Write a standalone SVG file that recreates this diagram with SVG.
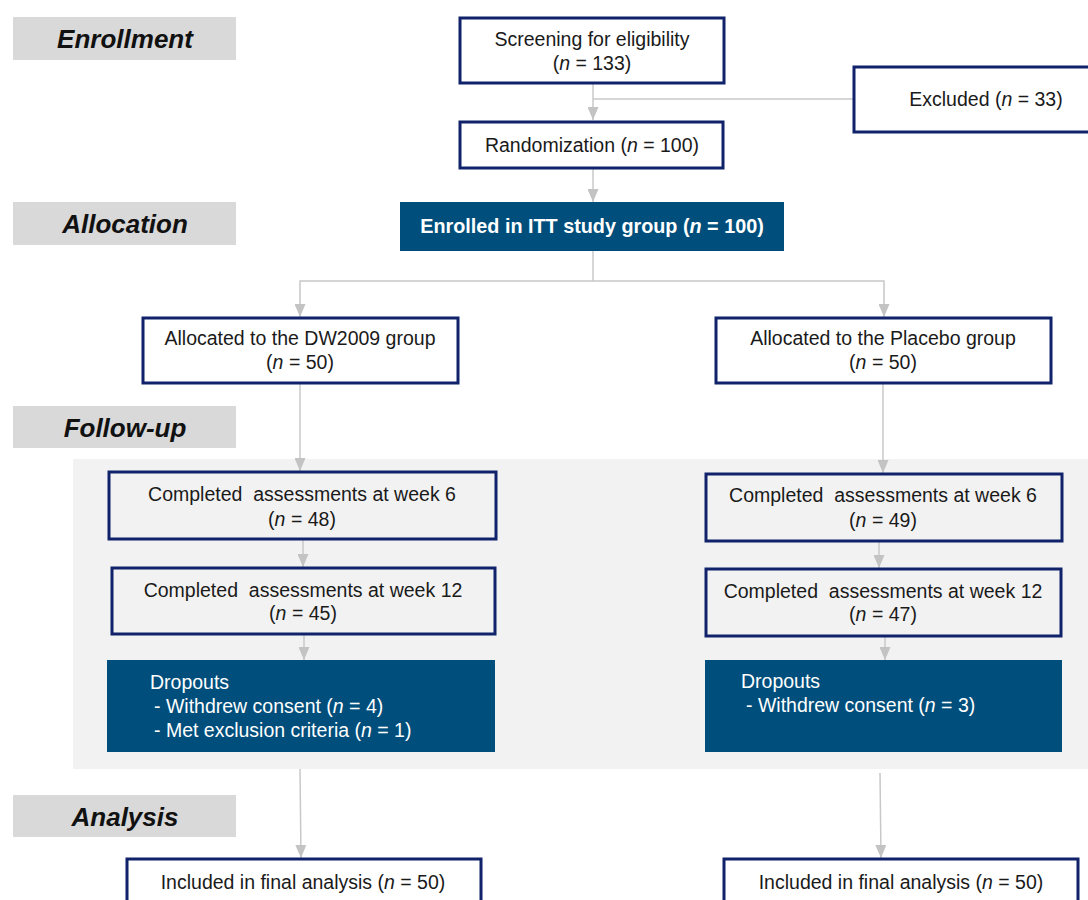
<svg xmlns="http://www.w3.org/2000/svg" width="1088" height="900" viewBox="0 0 1088 900">
<defs>
<marker id="ah" markerWidth="13" markerHeight="11" refX="13" refY="5.5" orient="auto" markerUnits="userSpaceOnUse" viewBox="0 0 13 11">
<path d="M0,0 L13,5.5 L0,11 Z" fill="#c3c3c3"/>
</marker>
<style>
.sec{fill:#d9d9d9}
.sect{font-family:"Liberation Sans",Arial,sans-serif;font-size:26px;font-weight:bold;font-style:italic;fill:#111;text-anchor:middle}
.box{fill:#ffffff;stroke:#0f226a;stroke-width:3}
.gbox{fill:#f2f2f2;stroke:#0f226a;stroke-width:3}
.fill{fill:#004e7b}
.t{font-family:"Liberation Sans",Arial,sans-serif;font-size:19.5px;fill:#1a1a1a;text-anchor:middle}
.w{font-family:"Liberation Sans",Arial,sans-serif;font-size:19.5px;fill:#ffffff}
.wb{font-family:"Liberation Sans",Arial,sans-serif;font-size:19.8px;font-weight:bold;fill:#ffffff;text-anchor:middle}
.c{fill:none;stroke:#c8c8c8;stroke-width:1.5}
</style>
</defs>
<rect width="1088" height="900" fill="#ffffff"/>
<rect id="followup-panel" x="73" y="459" width="1015" height="310" fill="#f2f2f2"/>

<g id="sec-enrollment"><rect class="sec" x="13" y="17" width="223" height="43"/><text class="sect" x="125" y="48">Enrollment</text></g>
<g id="sec-allocation"><rect class="sec" x="13" y="202" width="223" height="43"/><text class="sect" x="125" y="233">Allocation</text></g>
<g id="sec-followup"><rect class="sec" x="13" y="406" width="223" height="42"/><text class="sect" x="125" y="437">Follow-up</text></g>
<g id="sec-analysis"><rect class="sec" x="13" y="795" width="223" height="42"/><text class="sect" x="125" y="826">Analysis</text></g>

<g id="connectors">
<line class="c" x1="593" y1="83" x2="593" y2="120" marker-end="url(#ah)"/>
<line class="c" x1="593" y1="99" x2="853" y2="99"/>
<line class="c" x1="593" y1="168" x2="593" y2="202" marker-end="url(#ah)"/>
<polyline class="c" points="593,251 593,281"/>
<polyline class="c" points="593,281 884,281 884,317" marker-end="url(#ah)"/>
<polyline class="c" points="593,281 300,281 300,317" marker-end="url(#ah)"/>
<line class="c" x1="300" y1="383" x2="300" y2="471" marker-end="url(#ah)"/>
<line class="c" x1="883" y1="383" x2="883" y2="473" marker-end="url(#ah)"/>
<line class="c" x1="303" y1="539" x2="303" y2="567" marker-end="url(#ah)"/>
<line class="c" x1="879" y1="541" x2="879" y2="568" marker-end="url(#ah)"/>
<line class="c" x1="304" y1="634" x2="304" y2="660" marker-end="url(#ah)"/>
<line class="c" x1="885" y1="636" x2="885" y2="660" marker-end="url(#ah)"/>
<line class="c" x1="300" y1="769" x2="301" y2="858" marker-end="url(#ah)"/>
<line class="c" x1="880" y1="773" x2="881" y2="858" marker-end="url(#ah)"/>
</g>

<g id="screening"><rect class="box" x="460" y="18" width="264" height="65"/>
<text class="t" x="592" y="46">Screening for eligibility</text>
<text class="t" x="592" y="70">(<tspan font-style="italic">n</tspan> = 133)</text></g>

<g id="excluded"><rect class="box" x="854" y="67" width="240" height="65"/>
<text class="t" x="986" y="106">Excluded (<tspan font-style="italic">n</tspan> = 33)</text></g>

<g id="randomization"><rect class="box" x="460" y="122" width="263" height="46"/>
<text class="t" x="592" y="152">Randomization (<tspan font-style="italic">n</tspan> = 100)</text></g>

<g id="enrolled"><rect class="fill" x="400" y="202" width="384" height="49"/>
<text class="wb" x="592" y="233">Enrolled in ITT study group (<tspan font-style="italic">n</tspan> = 100)</text></g>

<g id="alloc-dw"><rect class="box" x="143" y="318" width="315" height="65"/>
<text class="t" x="300" y="345">Allocated to the DW2009 group</text>
<text class="t" x="300" y="369">(<tspan font-style="italic">n</tspan> = 50)</text></g>

<g id="alloc-placebo"><rect class="box" x="716" y="318" width="335" height="65"/>
<text class="t" x="883" y="345">Allocated to the Placebo group</text>
<text class="t" x="883" y="369">(<tspan font-style="italic">n</tspan> = 50)</text></g>

<g id="dw-week6"><rect class="gbox" x="109" y="472" width="387" height="67"/>
<text class="t" x="302" y="501">Completed&#160; assessments at week 6</text>
<text class="t" x="302" y="526">(<tspan font-style="italic">n</tspan> = 48)</text></g>

<g id="pl-week6"><rect class="gbox" x="706" y="474" width="356" height="67"/>
<text class="t" x="883" y="502">Completed&#160; assessments at week 6</text>
<text class="t" x="883" y="527">(<tspan font-style="italic">n</tspan> = 49)</text></g>

<g id="dw-week12"><rect class="gbox" x="112" y="568" width="383" height="66"/>
<text class="t" x="303" y="597">Completed&#160; assessments at week 12</text>
<text class="t" x="303" y="620">(<tspan font-style="italic">n</tspan> = 45)</text></g>

<g id="pl-week12"><rect class="gbox" x="706" y="569" width="355" height="67"/>
<text class="t" x="883" y="598">Completed&#160; assessments at week 12</text>
<text class="t" x="883" y="621">(<tspan font-style="italic">n</tspan> = 47)</text></g>

<g id="dw-dropouts"><rect class="fill" x="107" y="660" width="388" height="92"/>
<text class="w" x="150" y="689">Dropouts</text>
<text class="w" x="154" y="713">- Withdrew consent (<tspan font-style="italic">n</tspan> = 4)</text>
<text class="w" x="154" y="737">- Met exclusion criteria (<tspan font-style="italic">n</tspan> = 1)</text></g>

<g id="pl-dropouts"><rect class="fill" x="705" y="660" width="357" height="92"/>
<text class="w" x="741" y="688">Dropouts</text>
<text class="w" x="746" y="712">- Withdrew consent (<tspan font-style="italic">n</tspan> = 3)</text></g>

<g id="dw-analysis"><rect class="box" x="127" y="859" width="354" height="50"/>
<text class="t" x="303" y="889">Included in final analysis (<tspan font-style="italic">n</tspan> = 50)</text></g>

<g id="pl-analysis"><rect class="box" x="724" y="859" width="354" height="50"/>
<text class="t" x="901" y="889">Included in final analysis (<tspan font-style="italic">n</tspan> = 50)</text></g>
</svg>
